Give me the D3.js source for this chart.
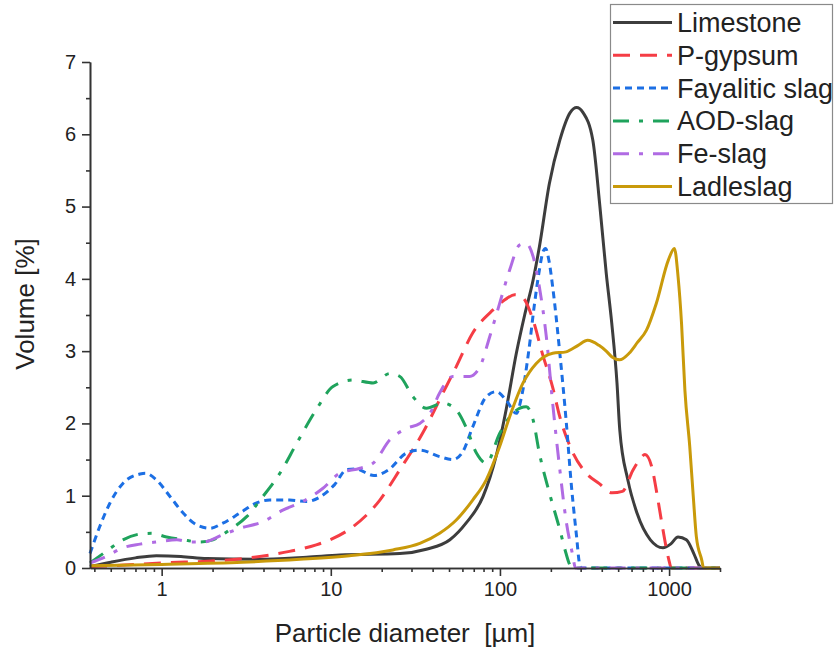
<!DOCTYPE html>
<html>
<head>
<meta charset="utf-8">
<script src="https://cdn.jsdelivr.net/npm/d3@7"></script>
<style>
  html, body { margin: 0; padding: 0; background: #fff; }
  svg { display: block; font-family: "Liberation Sans", Arial, sans-serif; }
</style>
</head>
<body>
<svg id="chart" width="835" height="651"></svg>
<script>
// ---- Data ----
const seriesNames = ["Limestone", "P-gypsum", "Fayalitic slag", "AOD-slag", "Fe-slag", "Ladleslag"];

const limestoneD = [0.377, 0.5, 0.7, 0.93, 1.3, 1.85, 3.6, 7.2, 11.3, 25.6, 36.7, 50.6, 63, 79.5, 95, 109, 125, 140, 157, 171, 196, 226, 260, 284, 310, 354, 390, 425, 458, 492, 511, 570, 646, 775, 920, 1020, 1130, 1265, 1400, 1500, 1580, 2000];
const limestoneV = [0.02, 0.08, 0.14, 0.17, 0.16, 0.13, 0.12, 0.15, 0.18, 0.2, 0.26, 0.39, 0.62, 0.99, 1.55, 2.2, 2.97, 3.5, 3.98, 4.44, 5.32, 5.92, 6.3, 6.37, 6.3, 5.92, 5.0, 4.08, 3.39, 2.56, 1.91, 1.22, 0.76, 0.39, 0.28, 0.33, 0.43, 0.39, 0.2, 0.04, 0, 0];

const gypsumD = [0.377, 0.6, 1, 2.1, 3.3, 5.7, 8.2, 9.9, 13.5, 19.5, 25.6, 35, 46, 55, 69, 91, 110, 122, 135, 157, 178, 205, 226, 260, 324, 385, 460, 530, 610, 670, 720, 790, 840, 900, 960, 1000, 1030, 2000];
const gypsumV = [0.02, 0.04, 0.07, 0.1, 0.14, 0.23, 0.32, 0.39, 0.57, 0.94, 1.36, 1.87, 2.42, 2.78, 3.25, 3.57, 3.73, 3.78, 3.75, 3.43, 2.97, 2.5, 2.09, 1.68, 1.31, 1.17, 1.04, 1.06, 1.35, 1.5, 1.57, 1.4, 1.08, 0.66, 0.29, 0.1, 0, 0];

const fayaliticD = [0.377, 0.43, 0.495, 0.59, 0.745, 0.8, 0.93, 1.12, 1.34, 1.6, 1.93, 2.3, 2.9, 3.64, 4.36, 5.7, 7.2, 8.6, 10.5, 12.4, 14, 18, 22, 28, 33.6, 44, 52.6, 60, 69, 83, 95, 109, 125, 135, 148, 160, 171, 180, 186, 195, 205, 226, 246, 265, 284, 295, 305, 2000];
const fayaliticV = [0.2, 0.57, 0.9, 1.17, 1.3, 1.31, 1.22, 0.99, 0.76, 0.6, 0.55, 0.62, 0.76, 0.9, 0.94, 0.94, 0.92, 0.98, 1.15, 1.36, 1.37, 1.28, 1.36, 1.59, 1.63, 1.54, 1.5, 1.6, 1.95, 2.37, 2.44, 2.32, 2.14, 2.4, 3.0, 3.65, 4.12, 4.38, 4.42, 4.25, 3.89, 2.97, 2.05, 1.12, 0.43, 0.07, 0, 0];

const aodD = [0.377, 0.47, 0.59, 0.745, 0.87, 1.07, 1.34, 1.68, 2.01, 2.53, 3.18, 3.97, 5, 6.27, 8.2, 10.3, 13.5, 17.8, 22.3, 25.6, 30.6, 36.8, 46, 55, 63, 72.6, 83, 99.6, 119, 143, 157, 171, 196, 226, 246, 256, 265, 2000];
const aodV = [0.07, 0.23, 0.39, 0.47, 0.48, 0.43, 0.39, 0.36, 0.39, 0.53, 0.71, 0.99, 1.31, 1.72, 2.19, 2.51, 2.6, 2.56, 2.69, 2.65, 2.37, 2.21, 2.28, 2.19, 1.95, 1.59, 1.45, 1.86, 2.14, 2.23, 2.05, 1.59, 1.04, 0.53, 0.2, 0.07, 0, 0];

const feD = [0.377, 0.47, 0.59, 0.745, 0.93, 1.23, 1.47, 1.76, 2.3, 2.9, 3.97, 5.2, 6.85, 8.95, 11.3, 14.9, 17.8, 22.3, 28, 33.6, 38.6, 44, 52.6, 66, 76, 87, 99.6, 114, 131, 143, 157, 171, 188, 205, 226, 246, 268, 280, 2000];
const feV = [0.07, 0.16, 0.28, 0.33, 0.36, 0.39, 0.36, 0.36, 0.46, 0.55, 0.64, 0.8, 0.92, 1.1, 1.31, 1.38, 1.45, 1.77, 1.93, 2.0, 2.14, 2.42, 2.65, 2.65, 2.78, 3.2, 3.66, 4.12, 4.47, 4.49, 4.31, 3.89, 3.2, 2.28, 1.36, 0.66, 0.2, 0, 0];

const ladleD = [0.377, 1, 3, 6.57, 12.9, 23.3, 33.6, 44, 55, 69, 83, 99.6, 114, 137, 164, 205, 246, 290, 330, 385, 425, 460, 510, 580, 650, 735, 840, 990, 1075, 1130, 1185, 1240, 1325, 1390, 1450, 1560, 1600, 2000];
const ladleV = [0.03, 0.05, 0.08, 0.12, 0.17, 0.25, 0.34, 0.48, 0.66, 0.94, 1.22, 1.68, 2.09, 2.56, 2.83, 2.97, 2.99, 3.08, 3.15, 3.08, 3.0, 2.92, 2.88, 2.97, 3.12, 3.29, 3.66, 4.26, 4.42, 4.03, 3.38, 2.46, 1.68, 0.99, 0.43, 0.11, 0, 0];

const xMajorTicks = [1, 10, 100, 1000];
const xMinorTicks = [0.4, 0.5, 0.6, 0.7, 0.8, 0.9, 2, 3, 4, 5, 6, 7, 8, 9, 20, 30, 40, 50, 60, 70, 80, 90, 200, 300, 400, 500, 600, 700, 800, 900, 2000];
const yMajorTicks = [0, 1, 2, 3, 4, 5, 6, 7];
const yMinorTicks = [0.5, 1.5, 2.5, 3.5, 4.5, 5.5, 6.5];

const xTitle = "Particle diameter  [µm]";
const yTitle = "Volume [%]";

// ---- Styles ----
const styles = [
  { color: "#3d3d3d", dash: null },
  { color: "#f53d45", dash: "17,10" },
  { color: "#1c6fe4", dash: "7,5" },
  { color: "#1fa35c", dash: "16,10,4,10" },
  { color: "#b06be3", dash: "16,10,4,10" },
  { color: "#c99a0a", dash: null }
];

const seriesD = [limestoneD, gypsumD, fayaliticD, aodD, feD, ladleD];
const seriesV = [limestoneV, gypsumV, fayaliticV, aodV, feV, ladleV];

// ---- Layout ----
const svg = d3.select("#chart");
const mLeft = 90, mRight = 720, mTop = 62, mBottom = 568;

const x = d3.scaleLog().domain([0.377, 2000]).range([mLeft, mRight]);
const y = d3.scaleLinear().domain([0, 7]).range([mBottom, mTop]);

const axisColor = "#333";

// Lines
const line = d3.line()
  .x(p => x(p[0]))
  .y(p => y(p[1]))
  .curve(d3.curveMonotoneX);

const gLines = svg.append("g");
seriesNames.forEach((name, i) => {
  const pts = seriesD[i].map((d, j) => [d, seriesV[i][j]]);
  gLines.append("path")
    .datum(pts)
    .attr("fill", "none")
    .attr("stroke", styles[i].color)
    .attr("stroke-width", 3)
    .attr("stroke-dasharray", styles[i].dash)
    .attr("d", line);
});

// Axes
function styleAxis(g) {
  g.selectAll("path.domain").attr("stroke", axisColor).attr("stroke-width", 1.6);
  g.selectAll(".tick line").attr("stroke", axisColor).attr("stroke-width", 1.6);
  g.selectAll(".tick text").attr("fill", "#222").style("font-size", "20px")
    .style("font-family", "'Liberation Sans', Arial, sans-serif");
}

const xAxisMinor = d3.axisBottom(x).tickValues(xMinorTicks).tickSize(4).tickSizeOuter(0).tickFormat("");
const xAxisMajor = d3.axisBottom(x).tickValues(xMajorTicks).tickSize(8).tickSizeOuter(0).tickPadding(6).tickFormat(d3.format("d"));
svg.append("g").attr("transform", `translate(0,${mBottom})`).call(xAxisMinor).call(styleAxis);
svg.append("g").attr("transform", `translate(0,${mBottom})`).call(xAxisMajor).call(styleAxis);

const yAxisMinor = d3.axisLeft(y).tickValues(yMinorTicks).tickSize(4).tickSizeOuter(0).tickFormat("");
const yAxisMajor = d3.axisLeft(y).tickValues(yMajorTicks).tickSize(8).tickSizeOuter(0).tickPadding(6).tickFormat(d3.format("d"));
svg.append("g").attr("transform", `translate(${mLeft},0)`).call(yAxisMinor).call(styleAxis);
svg.append("g").attr("transform", `translate(${mLeft},0)`).call(yAxisMajor).call(styleAxis);

// Axis titles
svg.append("text")
  .attr("x", 405)
  .attr("y", 642)
  .attr("text-anchor", "middle")
  .attr("fill", "#222")
  .style("font-size", "26px")
  .style("white-space", "pre")
  .text(xTitle);

svg.append("text")
  .attr("transform", `translate(34,304) rotate(-90)`)
  .attr("text-anchor", "middle")
  .attr("fill", "#222")
  .style("font-size", "26px")
  .text(yTitle);

// Legend
const lg = svg.append("g");
lg.append("rect")
  .attr("x", 610.5).attr("y", 4.5)
  .attr("width", 222).attr("height", 199)
  .attr("fill", "#fff")
  .attr("stroke", "#8a8a8a")
  .attr("stroke-width", 1.2);

const rowY0 = 22.5, rowStep = 32.8;
seriesNames.forEach((name, i) => {
  const cy = rowY0 + i * rowStep;
  lg.append("line")
    .attr("x1", 613).attr("x2", 672)
    .attr("y1", cy).attr("y2", cy)
    .attr("stroke", styles[i].color)
    .attr("stroke-width", 3)
    .attr("stroke-dasharray", styles[i].dash);
  lg.append("text")
    .attr("x", 677)
    .attr("y", cy + 9.5)
    .attr("fill", "#222")
    .style("font-size", "27px")
    .text(name);
});
</script>
</body>
</html>
